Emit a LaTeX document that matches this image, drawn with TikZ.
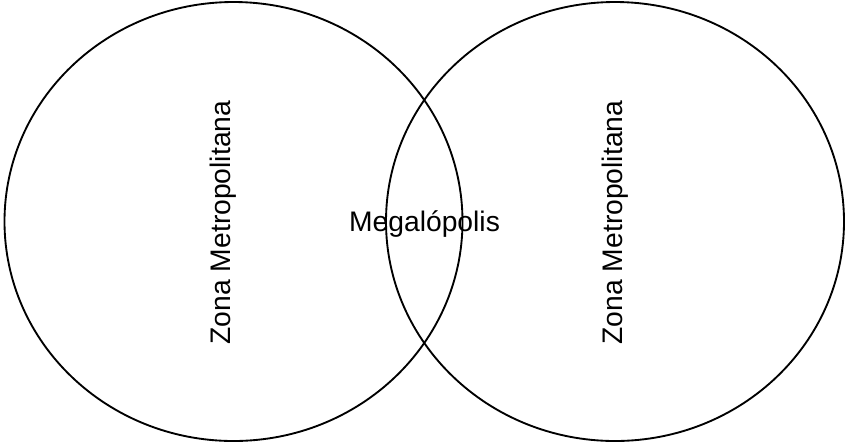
\documentclass[tikz,border=0pt]{standalone}
\usepackage{fontspec}
\setmainfont{Liberation Sans}
\usetikzlibrary{shapes.geometric}

\begin{document}
\begin{tikzpicture}[x=0.75pt,y=-0.75pt,
  zone/.style={draw,line width=1.4pt,ellipse,minimum width=458*0.75pt,minimum height=439*0.75pt,inner sep=0pt},
  label text/.style={inner sep=0pt,font=\fontsize{21.2}{24}\selectfont}]

  \useasboundingbox (0,0) rectangle (845,444);

  % two metropolitan zones
  \node [zone] (zl) at (233.5,221.5) {};
  \node [zone] (zr) at (615,221.5) {};

  \node [label text,rotate=90] (tl) at (223,222.5) {Zona Metropolitana};
  \node [label text,rotate=90] (tr) at (615,222.5) {Zona Metropolitana};

  % overlap
  \node [label text] (mg) at (424.5,224) {Megalópolis};
\end{tikzpicture}
\end{document}
